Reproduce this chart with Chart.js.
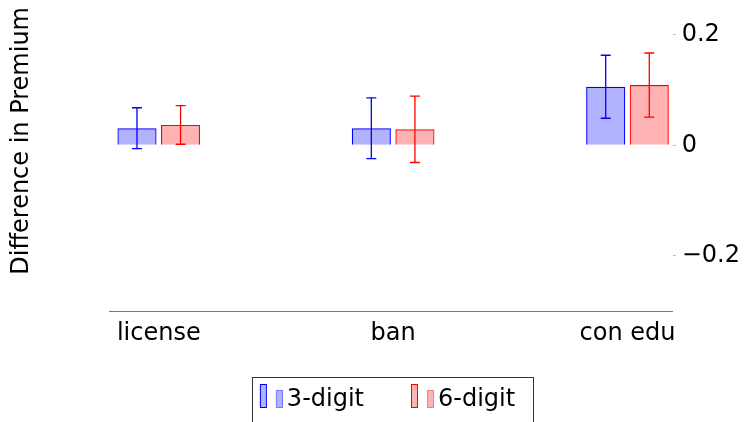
<!DOCTYPE html>
<html>
<head>
<meta charset="utf-8">
<script src="https://cdn.jsdelivr.net/npm/chart.js@4.4.1/dist/chart.umd.min.js"></script>
<style>
  html, body { margin: 0; padding: 0; background: #fff; }
  #wrap { width: 746px; height: 422px; }
</style>
</head>
<body>
<div id="wrap"><canvas id="premiumChart" width="746" height="422"></canvas></div>
<script>
// Dữ liệu
const categories = ['license', 'ban', 'con edu'];
const seriesNames = ['3-digit', '6-digit'];
const digit3 = [0.031, 0.031, 0.106];
const digit3Err = [0.037, 0.055, 0.057];
const digit6 = [0.037, 0.029, 0.109];
const digit6Err = [0.035, 0.060, 0.058];
const yTickValues = [-0.2, 0, 0.2];
const yTickLabels = ['\u22120.2', '0', '0.2'];

const FONT = 'DejaVu Sans';
Chart.defaults.font.family = FONT;
Chart.defaults.font.size = 24;
Chart.defaults.color = '#000';

// Icon legend kiểu pgfplots (2 hình chữ nhật)
function legendIcon(stroke, fill, light) {
    const c = document.createElement('canvas');
    c.width = 46; c.height = 32;
    const g = c.getContext('2d');
    g.lineWidth = 1;
    g.fillStyle = fill;
    g.strokeStyle = stroke;
    g.fillRect(23.5, 0.5, 6, 23);
    g.strokeRect(23.5, 0.5, 6, 23);
    g.strokeStyle = light;
    g.fillRect(39.5, 6.5, 6, 17);
    g.strokeRect(39.5, 6.5, 6, 17);
    return c;
}

const blueFill = 'rgba(0,0,255,0.3)';
const redFill = 'rgba(255,0,0,0.3)';
const icons = [
    legendIcon('#0000ff', blueFill, 'rgba(0,0,255,0.45)'),
    legendIcon('#ff0000', redFill, 'rgba(255,0,0,0.45)')
];

// Vẽ error bar
const errorBarPlugin = {
    id: 'errorBars',
    afterDatasetsDraw(chart) {
        const ctx = chart.ctx;
        const yScale = chart.scales.y;
        chart.data.datasets.forEach((ds, di) => {
            const meta = chart.getDatasetMeta(di);
            meta.data.forEach((bar, i) => {
                const v = ds.data[i].y;
                const e = ds.errors[i];
                const yTop = yScale.getPixelForValue(v + e);
                const yBot = yScale.getPixelForValue(v - e);
                ctx.save();
                ctx.strokeStyle = ds.borderColor;
                ctx.lineWidth = 1.3;
                ctx.beginPath();
                ctx.moveTo(bar.x, yTop); ctx.lineTo(bar.x, yBot);
                ctx.moveTo(bar.x - 5, yTop); ctx.lineTo(bar.x + 5, yTop);
                ctx.moveTo(bar.x - 5, yBot); ctx.lineTo(bar.x + 5, yBot);
                ctx.stroke();
                ctx.restore();
            });
        });
    }
};

// Khung quanh legend + dời tiêu đề trục y lên
const legendFramePlugin = {
    id: 'legendFrame',
    afterLayout(chart) {
        const t = chart.scales.yTitle;
        if (t) { t.top = 7; }
    },
    afterDraw(chart) {
        const lg = chart.legend;
        if (!lg || !lg.legendHitBoxes || !lg.legendHitBoxes.length) return;
        const boxes = lg.legendHitBoxes;
        const first = boxes[0];
        const last = boxes[boxes.length - 1];
        const left = Math.round(first.left + 7);
        const right = Math.round(last.left + last.width + 18);
        const top = Math.round(first.top - 11);
        const ctx = chart.ctx;
        ctx.save();
        ctx.strokeStyle = '#333';
        ctx.lineWidth = 1;
        ctx.strokeRect(left + 0.5, top + 0.5, right - left, chart.height - top + 5);
        ctx.restore();
    }
};

const ctx = document.getElementById('premiumChart').getContext('2d');
new Chart(ctx, {
    type: 'bar',
    data: {
        datasets: [{
            label: seriesNames[0],
            data: digit3.map((v, i) => ({ x: i, y: v })),
            errors: digit3Err,
            yAxisID: 'y',
            backgroundColor: blueFill,
            borderColor: '#0000ff',
            borderWidth: 1.2,
            categoryPercentage: 0.372,
            barPercentage: 0.897
        }, {
            label: seriesNames[1],
            data: digit6.map((v, i) => ({ x: i, y: v })),
            errors: digit6Err,
            yAxisID: 'y',
            backgroundColor: redFill,
            borderColor: '#ff0000',
            borderWidth: 1.2,
            categoryPercentage: 0.372,
            barPercentage: 0.897
        }]
    },
    options: {
        responsive: false,
        animation: false,
        layout: { padding: { top: 0, right: 0, bottom: 0, left: 14 } },
        scales: {
            x: {
                type: 'linear',
                offset: false,
                min: -0.209,
                max: 2.193,
                afterBuildTicks: s => { s.ticks = categories.map((c, i) => ({ value: i })); },
                ticks: {
                    callback: v => categories[v],
                    padding: 8,
                    font: { size: 24 }
                },
                grid: { display: false, drawTicks: false },
                border: { display: true, color: '#777', width: 1 }
            },
            yTitle: {
                type: 'linear',
                position: 'left',
                ticks: { display: false },
                grid: { display: false, drawTicks: false },
                border: { display: false },
                title: {
                    display: true,
                    text: 'Difference in Premium',
                    align: 'end',
                    font: { size: 24 },
                    padding: { top: -7, bottom: 74 }
                }
            },
            y: {
                position: 'right',
                min: -0.3,
                max: 0.226,
                afterBuildTicks: s => { s.ticks = yTickValues.map(v => ({ value: v })); },
                ticks: {
                    callback: v => yTickLabels[yTickValues.indexOf(v)],
                    padding: 6,
                    font: { size: 24 }
                },
                grid: { drawOnChartArea: false, drawTicks: true, tickLength: 3, color: '#bbb' },
                border: { display: false }
            }
        },
        plugins: {
            legend: {
                display: true,
                position: 'bottom',
                fullSize: true,
                onClick: null,
                labels: {
                    usePointStyle: true,
                    boxWidth: 30,
                    pointStyleWidth: 30,
                    padding: 32,
                    font: { size: 24 },
                    generateLabels: chart => chart.data.datasets.map((ds, i) => ({
                        text: ds.label,
                        pointStyle: icons[i],
                        fillStyle: ds.backgroundColor,
                        strokeStyle: ds.borderColor,
                        lineWidth: 0,
                        hidden: false,
                        datasetIndex: i,
                        fontColor: '#000'
                    }))
                }
            },
            tooltip: { enabled: false }
        }
    },
    plugins: [errorBarPlugin, legendFramePlugin]
});
</script>
</body>
</html>
